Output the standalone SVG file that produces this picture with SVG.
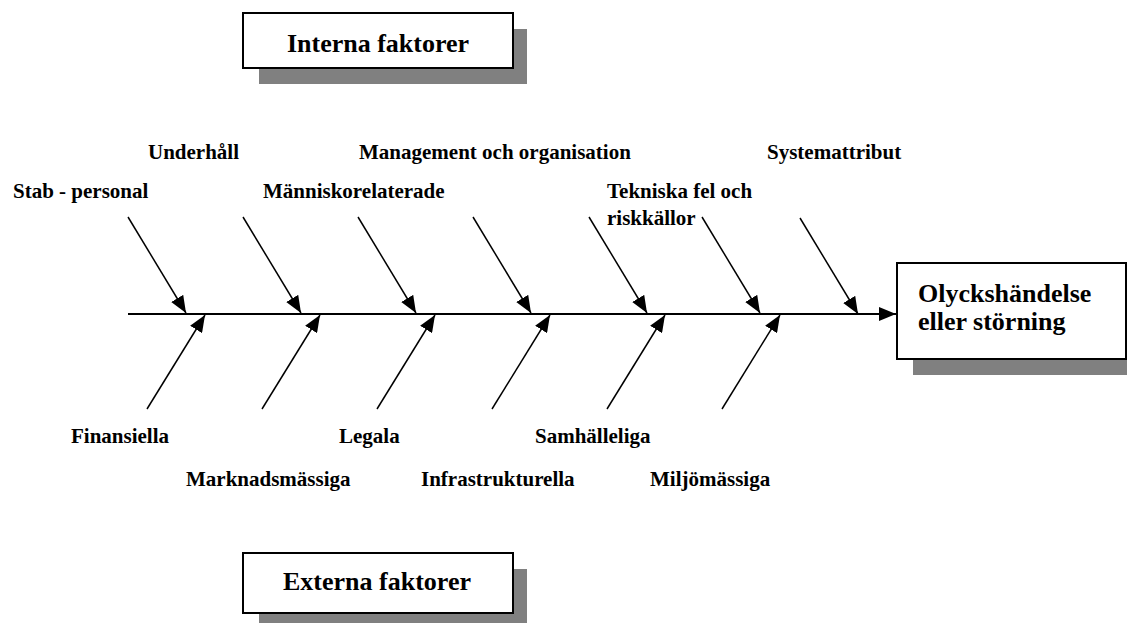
<svg xmlns="http://www.w3.org/2000/svg" width="1127" height="623" viewBox="0 0 1127 623">
  <style>
    .shadow { fill: #808080; stroke: none; }
    .box { fill: #ffffff; stroke: #000000; stroke-width: 2; }
    .title { font-family: "Liberation Serif", "Times New Roman", serif; font-weight: bold; font-size: 26px; fill: #000; }
    .label { font-family: "Liberation Serif", "Times New Roman", serif; font-weight: bold; font-size: 21px; fill: #000; }
    .bone { stroke: #000; stroke-width: 1.5; fill: none; marker-end: url(#arrow); }
    .spine { stroke: #000; stroke-width: 2; fill: none; marker-end: url(#arrowBig); }
  </style>
  <defs>
    <marker id="arrow" markerUnits="userSpaceOnUse" markerWidth="17" markerHeight="14" refX="17" refY="7" orient="auto">
      <path d="M0,0 L17,7 L0,14 z" fill="#000"/>
    </marker>
    <marker id="arrowBig" markerUnits="userSpaceOnUse" markerWidth="17" markerHeight="14" refX="17" refY="7" orient="auto">
      <path d="M0,0 L17,7 L0,14 z" fill="#000"/>
    </marker>
  </defs>
  <rect width="1127" height="623" fill="#ffffff"/>

  <g id="interna">
    <rect class="shadow" x="259" y="29" width="268" height="55"/>
    <rect class="box" x="243" y="13" width="270" height="55"/>
    <text class="title" x="378" y="52" text-anchor="middle">Interna faktorer</text>
  </g>

  <g id="externa">
    <rect class="shadow" x="259" y="569" width="268" height="60"/>
    <rect class="box" x="243" y="553" width="270" height="60"/>
    <text class="title" x="377" y="590" text-anchor="middle">Externa faktorer</text>
  </g>

  <g id="olyckshandelse">
    <rect class="shadow" x="913" y="279" width="220" height="96"/>
    <rect class="box" x="897" y="263" width="229" height="96"/>
    <text class="title" x="918" y="302">Olyckshändelse</text>
    <text class="title" x="918" y="330">eller störning</text>
  </g>

  <g id="connectors">
    <line class="spine" x1="128" y1="314" x2="896" y2="314"/>
    <line class="bone" x1="128" y1="217" x2="186" y2="313"/>
    <line class="bone" x1="243" y1="217" x2="301" y2="313"/>
    <line class="bone" x1="358" y1="217" x2="416" y2="313"/>
    <line class="bone" x1="473" y1="217" x2="531" y2="313"/>
    <line class="bone" x1="589" y1="217" x2="647" y2="313"/>
    <line class="bone" x1="702" y1="217" x2="760" y2="313"/>
    <line class="bone" x1="800" y1="218" x2="858" y2="314"/>
    <line class="bone" x1="147" y1="409" x2="205" y2="315"/>
    <line class="bone" x1="262" y1="409" x2="320" y2="315"/>
    <line class="bone" x1="377" y1="409" x2="435" y2="315"/>
    <line class="bone" x1="492" y1="409" x2="550" y2="315"/>
    <line class="bone" x1="607" y1="409" x2="665" y2="315"/>
    <line class="bone" x1="722" y1="409" x2="780" y2="315"/>
  </g>

  <g id="label-stab"><text class="label" x="13" y="198">Stab - personal</text></g>
  <g id="label-underhall"><text class="label" x="148" y="159">Underhåll</text></g>
  <g id="label-manniskorelaterade"><text class="label" x="263" y="198">Människorelaterade</text></g>
  <g id="label-management"><text class="label" x="359" y="159">Management och organisation</text></g>
  <g id="label-tekniska">
    <text class="label" x="607" y="198">Tekniska fel och</text>
    <text class="label" x="607" y="225">riskkällor</text>
  </g>
  <g id="label-systemattribut"><text class="label" x="767" y="159">Systemattribut</text></g>

  <g id="label-finansiella"><text class="label" x="71" y="443">Finansiella</text></g>
  <g id="label-marknadsmassiga"><text class="label" x="186" y="486">Marknadsmässiga</text></g>
  <g id="label-legala"><text class="label" x="339" y="443">Legala</text></g>
  <g id="label-infrastrukturella"><text class="label" x="421" y="486">Infrastrukturella</text></g>
  <g id="label-samhalleliga"><text class="label" x="535" y="443">Samhälleliga</text></g>
  <g id="label-miljomassiga"><text class="label" x="650" y="486">Miljömässiga</text></g>
</svg>
